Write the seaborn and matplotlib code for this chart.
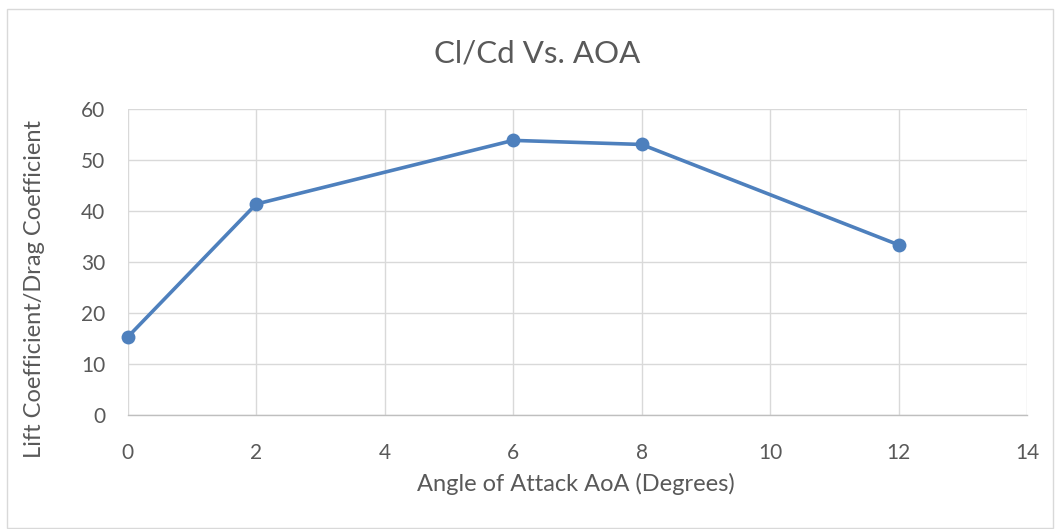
import matplotlib
matplotlib.use("Agg")
import matplotlib.pyplot as plt
import seaborn as sns
import pandas as pd
from matplotlib.patches import Rectangle

# Lift-to-drag ratio against angle of attack
aoa_deg = [0, 2, 6, 8, 12]
cl_cd = [15.3, 41.4, 53.9, 53.1, 33.4]
x_ticks = [0, 2, 4, 6, 8, 10, 12, 14]
y_ticks = [0, 10, 20, 30, 40, 50, 60]

sns.set_theme(style="white")
plt.rcParams["font.family"] = ["Lato", "DejaVu Sans"]

W, H = 1055, 529
fig = plt.figure(figsize=(W / 100, H / 100), dpi=100)
fig.patch.set_facecolor("white")

# chart frame
fig.add_artist(Rectangle((7 / W, 1 - 528 / H), 1046 / W, 519 / H,
                         transform=fig.transFigure, fill=False,
                         edgecolor="#D9D9D9", linewidth=1.0))

left, right, top, bottom = 127.7, 1027, 109.3, 415
aw, ah = right - left, bottom - top
ax = fig.add_axes([left / W, 1 - bottom / H, aw / W, ah / H])

df = pd.DataFrame({"AoA": aoa_deg, "ClCd": cl_cd})
sns.lineplot(data=df, x="AoA", y="ClCd", ax=ax, color="#4E80BD",
             linewidth=2.6, marker="o", markersize=10, markeredgewidth=0,
             zorder=5, clip_on=False)

ax.set_xlim(0, 14)
ax.set_ylim(0, 60)
ax.set_xticks(x_ticks)
ax.set_yticks(y_ticks)
ax.grid(True, color="#D9D9D9", linewidth=1.0)
ax.set_axisbelow(True)
for s in ["top", "right", "left"]:
    ax.spines[s].set_visible(False)
ax.spines["bottom"].set_color("#BFBFBF")
ax.spines["bottom"].set_linewidth(1.0)
ax.tick_params(axis="x", length=0, labelsize=15, colors="#595959", pad=20)
ax.tick_params(axis="y", length=0, labelsize=15, colors="#595959", pad=16)

ax.set_xlabel("Angle of Attack AoA (Degrees)", fontsize=17, color="#595959", va="center")
ax.xaxis.set_label_coords((576 - left) / aw, (bottom - 484) / ah)
ax.set_ylabel("Lift Coefficient/Drag Coefficient", fontsize=17, color="#595959", va="center")
ax.yaxis.set_label_coords((35 - left) / aw, (bottom - 289) / ah)
fig.text(537 / W, 1 - 54 / H, "Cl/Cd Vs. AOA", fontsize=22.5,
         color="#595959", ha="center", va="center")

fig.savefig("out.png", dpi=100)
